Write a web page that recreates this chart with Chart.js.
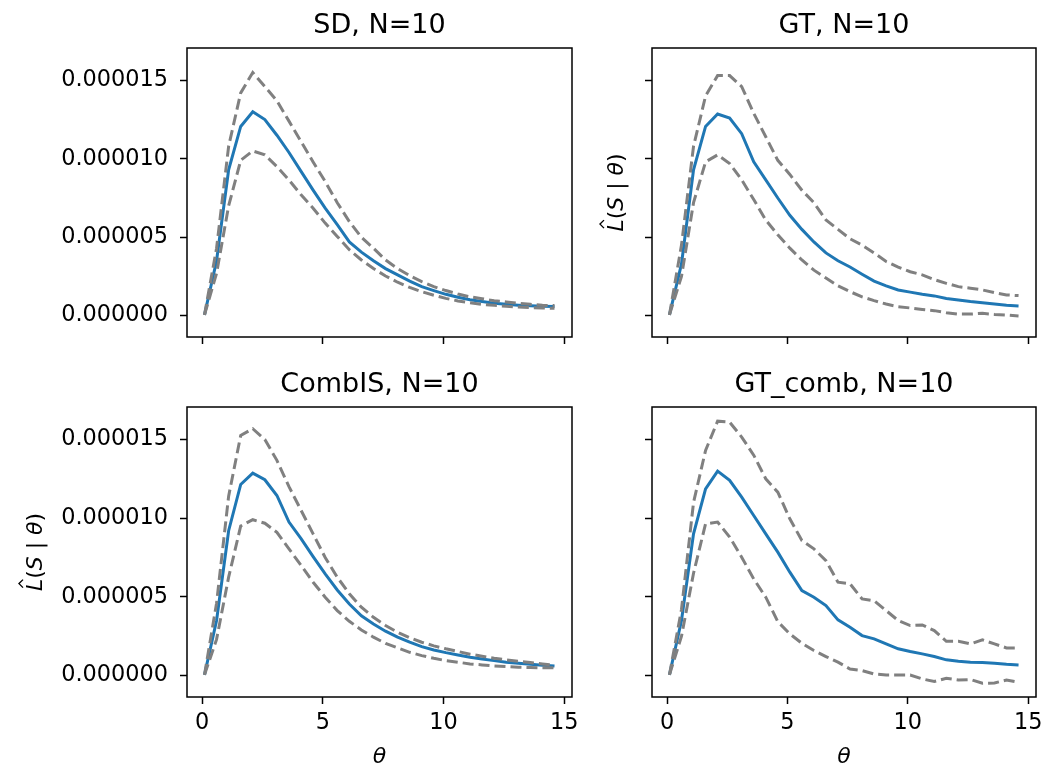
<!DOCTYPE html>
<html>
<head>
<meta charset="utf-8">
<script src="https://cdn.jsdelivr.net/npm/chart.js@4.4.1/dist/chart.umd.min.js"></script>
<style>
  body { margin: 0; background: #fff; }
  #wrap { position: relative; width: 1041px; height: 766px; overflow: hidden; }
  canvas { position: absolute; }
</style>
</head>
<body>
<div id="wrap">
  <canvas id="sd" width="600" height="350" style="left:0;top:0"></canvas>
  <canvas id="gt" width="461" height="350" style="left:580px;top:0"></canvas>
  <canvas id="comb" width="600" height="416" style="left:0;top:350px"></canvas>
  <canvas id="gtcomb" width="461" height="416" style="left:580px;top:350px"></canvas>
</div>
<script>
// theta grid (x values)
const theta = [0.1, 0.6, 1.1, 1.6, 2.1, 2.6, 3.1, 3.6, 4.1, 4.6, 5.1, 5.6, 6.1, 6.6, 7.1,
  7.6, 8.1, 8.6, 9.1, 9.6, 10.1, 10.6, 11.1, 11.6, 12.1, 12.6, 13.1, 13.6, 14.1, 14.6];

// likelihood estimates, in units of 1e-6
const sdMean  = [0.05, 3.5, 9.3, 12.06, 13.0, 12.5, 11.5, 10.4, 9.2, 8.0, 6.85, 5.8, 4.7, 4.05, 3.5,
  3.0, 2.6, 2.2, 1.85, 1.6, 1.36, 1.17, 1.02, 0.9, 0.79, 0.72, 0.67, 0.63, 0.6, 0.58];
const sdUpper = [0.05, 4.3, 10.8, 14.2, 15.5, 14.6, 13.7, 12.4, 11.1, 9.8, 8.55, 7.2, 6.0, 5.0, 4.3,
  3.55, 3.0, 2.55, 2.17, 1.85, 1.6, 1.38, 1.2, 1.08, 0.95, 0.87, 0.79, 0.72, 0.66, 0.64];
const sdLower = [0.05, 2.7, 7.0, 9.9, 10.5, 10.25, 9.5, 8.65, 7.7, 6.85, 5.9, 5.05, 4.2, 3.55, 3.0,
  2.53, 2.13, 1.8, 1.53, 1.3, 1.1, 0.94, 0.83, 0.72, 0.66, 0.6, 0.55, 0.51, 0.49, 0.47];

const gtMean  = [0.05, 3.3, 9.3, 12.06, 12.85, 12.6, 11.6, 9.8, 8.66, 7.5, 6.4, 5.5, 4.7, 4.0, 3.5,
  3.1, 2.64, 2.2, 1.9, 1.64, 1.5, 1.36, 1.26, 1.1, 1.0, 0.9, 0.83, 0.75, 0.66, 0.62];
const gtUpper = [0.05, 4.5, 10.8, 14.0, 15.3, 15.3, 14.6, 12.9, 11.4, 9.9, 9.0, 8.0, 7.2, 6.1, 5.5,
  4.9, 4.5, 4.0, 3.45, 3.1, 2.8, 2.6, 2.3, 2.06, 1.85, 1.75, 1.64, 1.47, 1.32, 1.28];
const gtLower = [0.05, 2.5, 7.2, 9.8, 10.25, 9.7, 8.66, 7.4, 6.1, 5.15, 4.3, 3.55, 2.9, 2.4, 1.9,
  1.53, 1.2, 0.96, 0.74, 0.57, 0.49, 0.4, 0.32, 0.19, 0.1, 0.1, 0.15, 0.08, 0.04, -0.02];

const combMean  = [0.05, 3.5, 9.2, 12.14, 12.86, 12.44, 11.44, 9.75, 8.7, 7.56, 6.46, 5.44, 4.55, 3.8, 3.28,
  2.82, 2.44, 2.12, 1.84, 1.63, 1.46, 1.31, 1.17, 1.06, 0.95, 0.85, 0.78, 0.72, 0.66, 0.61];
const combUpper = [0.05, 4.6, 11.4, 15.25, 15.68, 15.0, 13.67, 12.0, 10.5, 9.0, 7.5, 6.25, 5.2, 4.34, 3.7,
  3.18, 2.75, 2.4, 2.12, 1.89, 1.7, 1.53, 1.36, 1.23, 1.1, 1.0, 0.91, 0.83, 0.74, 0.66];
const combLower = [0.05, 2.3, 6.25, 9.5, 9.9, 9.68, 9.1, 8.05, 7.0, 5.93, 4.98, 4.13, 3.45, 2.9, 2.44,
  2.05, 1.76, 1.48, 1.27, 1.1, 0.95, 0.85, 0.74, 0.68, 0.61, 0.57, 0.53, 0.51, 0.49, 0.49];

const gtcMean  = [0.05, 3.5, 9.0, 11.86, 12.99, 12.4, 11.33, 10.17, 9.0, 7.84, 6.57, 5.4, 4.98, 4.45, 3.54,
  3.07, 2.54, 2.33, 2.01, 1.7, 1.53, 1.38, 1.21, 1.0, 0.91, 0.85, 0.83, 0.78, 0.72, 0.68];
const gtcUpper = [0.05, 4.2, 11.0, 14.3, 16.16, 16.1, 15.15, 14.0, 12.5, 11.65, 9.96, 8.58, 8.05, 7.3, 5.93,
  5.83, 4.87, 4.76, 4.13, 3.5, 3.18, 3.22, 2.86, 2.18, 2.18, 2.01, 2.27, 2.01, 1.76, 1.76];
const gtcLower = [0.05, 2.5, 6.5, 9.64, 9.75, 8.8, 7.52, 6.14, 4.98, 3.43, 2.65, 2.05, 1.59, 1.21, 0.85,
  0.42, 0.32, 0.1, 0.04, 0.04, 0.04, -0.21, -0.38, -0.17, -0.28, -0.25, -0.49, -0.47, -0.28, -0.42];

const xTicks = [0, 5, 10, 15];
const yTicks = [0, 5, 10, 15];

const FONT = '"DejaVu Sans", "Liberation Sans", sans-serif';

// frame, title and axis labels drawn matplotlib-like
const panelPlugin = {
  id: 'panel',
  afterDraw(chart, args, opts) {
    const ctx = chart.ctx;
    const a = chart.chartArea;
    const cx = (a.left + a.right) / 2;
    ctx.save();
    ctx.strokeStyle = '#000';
    ctx.lineWidth = 1.5;
    ctx.strokeRect(a.left, a.top, a.right - a.left, a.bottom - a.top);

    ctx.fillStyle = '#000';
    ctx.textAlign = 'center';
    ctx.textBaseline = 'alphabetic';
    ctx.font = '27px ' + FONT;
    ctx.fillText(opts.title, cx, a.top - 15);

    if (opts.xLabelY) {
      ctx.font = 'italic 22px ' + FONT;
      ctx.fillText('θ', cx, opts.xLabelY);
    }
    if (opts.yLabelX) {
      const parts = [['L', true], ['(', false], ['S', true], [' | ', false], ['θ', true], [')', false]];
      ctx.translate(opts.yLabelX, (a.top + a.bottom) / 2);
      ctx.rotate(-Math.PI / 2);
      ctx.textAlign = 'left';
      let total = 0;
      const widths = parts.map(p => {
        ctx.font = (p[1] ? 'italic ' : '') + '22px ' + FONT;
        const w = ctx.measureText(p[0]).width;
        total += w;
        return w;
      });
      let x = -total / 2;
      parts.forEach((p, i) => {
        ctx.font = (p[1] ? 'italic ' : '') + '22px ' + FONT;
        ctx.fillText(p[0], x, 0);
        if (i === 0) {
          // hat over L
          ctx.lineWidth = 1.4;
          ctx.beginPath();
          ctx.moveTo(x + 3.5, -19);
          ctx.lineTo(x + 7.5, -23);
          ctx.lineTo(x + 11.5, -19);
          ctx.stroke();
        }
        x += widths[i];
      });
    }
    ctx.restore();
  }
};

function makePanel(id, title, mean, upper, lower, o) {
  const pts = arr => theta.map((t, i) => ({ x: t, y: arr[i] }));
  const dashed = arr => ({
    data: pts(arr), borderColor: '#808080', borderWidth: 3, borderDash: [11, 5],
    pointRadius: 0, tension: 0, fill: false
  });
  const tickFont = { family: FONT, size: 22.4 };
  const grid = { drawOnChartArea: false, drawTicks: true, tickLength: 7, tickWidth: 1.5, tickColor: '#000' };

  new Chart(document.getElementById(id), {
    type: 'line',
    data: {
      datasets: [
        dashed(upper),
        dashed(lower),
        { data: pts(mean), borderColor: '#1f77b4', borderWidth: 3, pointRadius: 0, tension: 0, fill: false }
      ]
    },
    options: {
      responsive: false,
      animation: false,
      devicePixelRatio: 1,
      layout: { padding: o.padding },
      plugins: {
        legend: { display: false },
        tooltip: { enabled: false },
        panel: { title: title, xLabelY: o.xLabelY, yLabelX: o.yLabelX }
      },
      scales: {
        x: {
          type: 'linear', min: -0.625, max: 15.325,
          afterBuildTicks: s => { s.ticks = xTicks.map(v => ({ value: v })); },
          afterFit: s => { s.height = o.xHeight; s.paddingLeft = 0; s.paddingRight = 0; },
          ticks: {
            font: tickFont, color: '#000', padding: 6, maxRotation: 0, autoSkip: false,
            callback: v => o.xLabels ? String(v) : ''
          },
          grid: grid,
          border: { display: false }
        },
        y: {
          type: 'linear', min: -1.36, max: 17.06,
          afterBuildTicks: s => { s.ticks = yTicks.map(v => ({ value: v })); },
          afterFit: s => { s.width = o.yWidth; s.paddingTop = 0; s.paddingBottom = 0; },
          ticks: {
            font: tickFont, color: '#000', padding: 12, autoSkip: false,
            callback: v => o.yLabels ? (v / 1e6).toFixed(6) : ''
          },
          grid: grid,
          border: { display: false }
        }
      }
    },
    plugins: [panelPlugin]
  });
}

makePanel('sd', 'SD, N=10', sdMean, sdUpper, sdLower,
  { padding: { left: 0, top: 48, right: 28, bottom: 0 }, yWidth: 187, xHeight: 13, xLabels: false, yLabels: true });
makePanel('gt', 'GT, N=10', gtMean, gtUpper, gtLower,
  { padding: { left: 0, top: 48, right: 5, bottom: 0 }, yWidth: 72, xHeight: 13, xLabels: false, yLabels: false, yLabelX: 43 });
makePanel('comb', 'CombIS, N=10', combMean, combUpper, combLower,
  { padding: { left: 0, top: 57, right: 28, bottom: 0 }, yWidth: 187, xHeight: 69, xLabels: true, yLabels: true, yLabelX: 42, xLabelY: 413 });
makePanel('gtcomb', 'GT_comb, N=10', gtcMean, gtcUpper, gtcLower,
  { padding: { left: 0, top: 57, right: 5, bottom: 0 }, yWidth: 72, xHeight: 69, xLabels: true, yLabels: false, xLabelY: 413 });
</script>
</body>
</html>
